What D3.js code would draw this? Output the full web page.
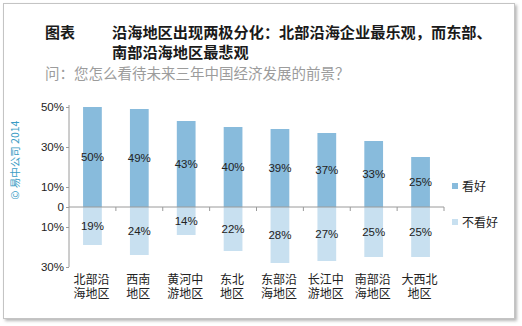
<!DOCTYPE html>
<html>
<head>
<meta charset="utf-8">
<script src="https://cdn.jsdelivr.net/npm/d3@7/dist/d3.min.js"></script>
<style>
  html, body { margin: 0; padding: 0; background: #fff; }
  svg { display: block; }
</style>
</head>
<body>
<svg id="chart" width="522" height="326"></svg>
<script>
// Regions surveyed
const regions = [
  ["北部沿", "海地区"],
  ["西南", "地区"],
  ["黄河中", "游地区"],
  ["东北", "地区"],
  ["东部沿", "海地区"],
  ["长江中", "游地区"],
  ["南部沿", "海地区"],
  ["大西北", "地区"]
];
// Share of respondents (%) who are optimistic / not optimistic
const optimistic = [50, 49, 43, 40, 39, 37, 33, 25];
const pessimistic = [19, 24, 14, 22, 28, 27, 25, 25];
const yTicks = [50, 30, 10, 0, -10, -30];
const legendLabels = ["看好", "不看好"];

const colors = ["#88bbdc", "#c8e0f0"];
const cjk = "'Noto Sans CJK SC', 'Liberation Sans', sans-serif";
const latin = "'Liberation Sans', Arial, sans-serif";

const svg = d3.select("#chart");

// frame with soft shadow
const defs = svg.append("defs");
const f = defs.append("filter").attr("id", "shadow").attr("x", "-5%").attr("y", "-5%").attr("width", "110%").attr("height", "110%");
f.append("feDropShadow").attr("dx", 2).attr("dy", 2).attr("stdDeviation", 1.5).attr("flood-color", "#888").attr("flood-opacity", 0.6);
svg.append("rect")
  .attr("x", 3.5).attr("y", 3.5).attr("width", 511).attr("height", 315)
  .attr("fill", "#fff").attr("stroke", "#c4c4c4").attr("filter", "url(#shadow)");

// titles
svg.append("text").attr("x", 45).attr("y", 38)
  .attr("font-family", cjk).attr("font-size", 15).attr("font-weight", "bold").attr("fill", "#1a1a1a")
  .text("图表");
svg.append("text").attr("x", 112).attr("y", 38)
  .attr("font-family", cjk).attr("font-size", 15.2).attr("font-weight", "bold").attr("fill", "#1a1a1a")
  .text("沿海地区出现两极分化：北部沿海企业最乐观，而东部、");
svg.append("text").attr("x", 112).attr("y", 58)
  .attr("font-family", cjk).attr("font-size", 15.2).attr("font-weight", "bold").attr("fill", "#1a1a1a")
  .text("南部沿海地区最悲观");
svg.append("text").attr("x", 45).attr("y", 79)
  .attr("font-family", cjk).attr("font-size", 14.5).attr("fill", "#9c9c9c")
  .text("问：您怎么看待未来三年中国经济发展的前景？");

// copyright note along the left edge
svg.append("text")
  .attr("transform", "translate(19,160) rotate(-90)")
  .attr("text-anchor", "middle")
  .attr("font-family", cjk).attr("font-size", 10.5).attr("fill", "#3a9cc4")
  .text("© 易中公司 2014");

// scales
const x = d3.scaleBand().domain(d3.range(regions.length)).range([69, 444]).paddingInner(0.6).paddingOuter(0.3);
const y = d3.scaleLinear().domain([-30, 50]).range([267, 107]);

// bars
const g = svg.append("g");
g.selectAll(".pos").data(optimistic).join("rect")
  .attr("x", (d, i) => x(i)).attr("width", x.bandwidth())
  .attr("y", d => y(d)).attr("height", d => y(0) - y(d))
  .attr("fill", colors[0]);
g.selectAll(".neg").data(pessimistic).join("rect")
  .attr("x", (d, i) => x(i)).attr("width", x.bandwidth())
  .attr("y", y(0)).attr("height", d => y(-d) - y(0))
  .attr("fill", colors[1]);

// value labels
g.selectAll(".posl").data(optimistic).join("text")
  .attr("x", (d, i) => x(i) + x.bandwidth() / 2)
  .attr("y", d => (y(d) + y(0)) / 2)
  .attr("dy", "0.35em").attr("text-anchor", "middle")
  .attr("font-family", latin).attr("font-size", 11.5).attr("fill", "#222")
  .text(d => d + "%");
g.selectAll(".negl").data(pessimistic).join("text")
  .attr("x", (d, i) => x(i) + x.bandwidth() / 2)
  .attr("y", d => (y(-d) + y(0)) / 2)
  .attr("dy", "0.35em").attr("text-anchor", "middle")
  .attr("font-family", latin).attr("font-size", 11.5).attr("fill", "#222")
  .text(d => d + "%");

// y axis
const yAxis = svg.append("g").attr("transform", "translate(69,0)")
  .call(d3.axisLeft(y).tickValues(yTicks).tickSize(3).tickSizeOuter(0)
    .tickFormat(d => d === 0 ? "0" : Math.abs(d) + "%"));
yAxis.select(".domain").attr("stroke", "#9a9a9a").attr("d", `M0,${y(50) - 2}V${y(-30)}`);
yAxis.selectAll(".tick line").attr("stroke", "#9a9a9a");
yAxis.selectAll(".tick text").attr("font-family", latin).attr("font-size", 11.5).attr("fill", "#222").attr("x", -5);

// category baseline at zero with band separators
const xAxis = svg.append("g").attr("transform", `translate(0,${y(0)})`);
xAxis.append("line").attr("x1", 69).attr("x2", 444).attr("stroke", "#9a9a9a");
xAxis.selectAll(".sep").data(d3.range(1, regions.length + 1)).join("line")
  .attr("x1", i => 69 + i * x.step()).attr("x2", i => 69 + i * x.step())
  .attr("y1", 0).attr("y2", 4).attr("stroke", "#9a9a9a");

// category labels, two lines each
const lines = regions.flatMap((d, i) => d.map((line, k) => ({ i, k, line })));
svg.append("g").selectAll("text").data(lines).join("text")
  .attr("x", d => x(d.i) + x.bandwidth() / 2 - 1)
  .attr("y", d => 284 + d.k * 13.5)
  .attr("font-family", cjk).attr("font-size", 12).attr("fill", "#222").attr("text-anchor", "middle")
  .text(d => d.line);

// legend
const leg = svg.append("g").selectAll("g").data(legendLabels).join("g")
  .attr("transform", (d, i) => `translate(452,${183 + i * 36})`);
leg.append("rect").attr("width", 6).attr("height", 6).attr("fill", (d, i) => colors[i]);
leg.append("text").attr("x", 10).attr("y", 3).attr("dy", "0.38em")
  .attr("font-family", cjk).attr("font-size", 12).attr("fill", "#222").text(d => d);
</script>
</body>
</html>
